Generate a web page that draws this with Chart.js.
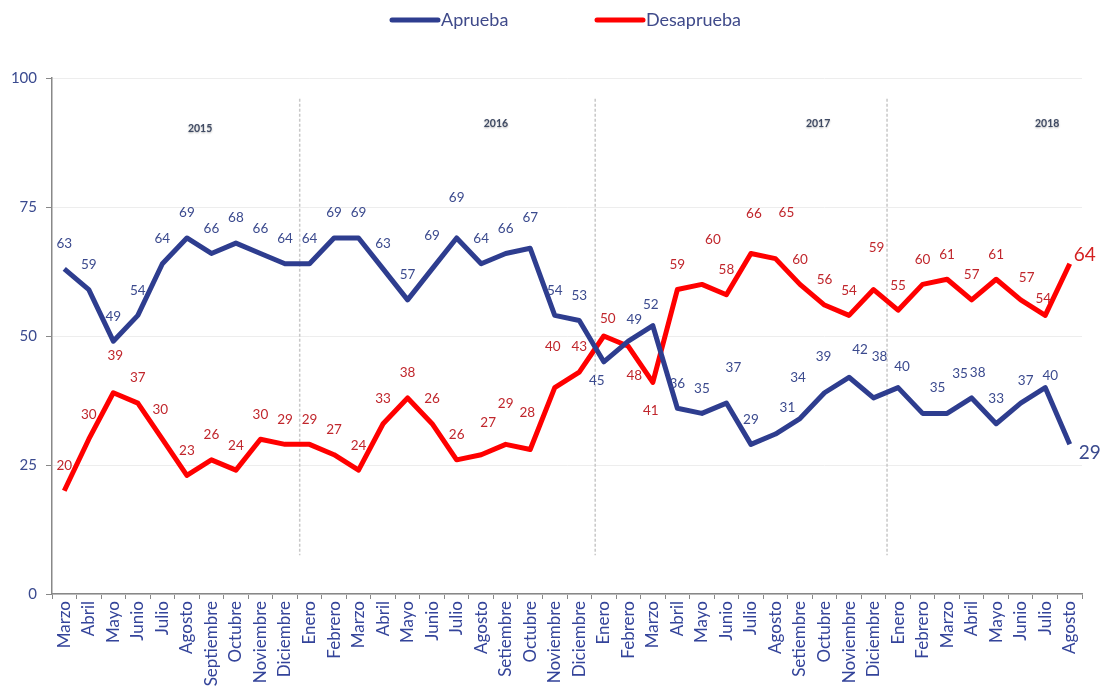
<!DOCTYPE html>
<html>
<head>
<meta charset="utf-8">
<script src="https://cdn.jsdelivr.net/npm/chart.js@4.4.1/dist/chart.umd.min.js"></script>
<style>
  html, body { margin: 0; padding: 0; background: #fff; }
  #wrap { width: 1110px; height: 688px; }
</style>
</head>
<body>
<div id="wrap"><canvas id="chart"></canvas></div>
<script>
// months from Marzo 2015 to Agosto 2018
var months = [
  "Marzo", "Abril", "Mayo", "Junio", "Julio", "Agosto", "Septiembre", "Octubre", "Noviembre", "Diciembre",
  "Enero", "Febrero", "Marzo", "Abril", "Mayo", "Junio", "Julio", "Agosto", "Setiembre", "Octubre", "Noviembre", "Diciembre",
  "Enero", "Febrero", "Marzo", "Abril", "Mayo", "Junio", "Julio", "Agosto", "Setiembre", "Octubre", "Noviembre", "Diciembre",
  "Enero", "Febrero", "Marzo", "Abril", "Mayo", "Junio", "Julio", "Agosto"
];
var years = ["2015", "2016", "2017", "2018"];

var aprueba = [
  63, 59, 49, 54, 64, 69, 66, 68, 66, 64,
  64, 69, 69, 63, 57, 63, 69, 64, 66, 67, 54, 53,
  45, 49, 52, 36, 35, 37, 29, 31, 34, 39, 42, 38,
  40, 35, 35, 38, 33, 37, 40, 29
];
var desaprueba = [
  20, 30, 39, 37, 30, 23, 26, 24, 30, 29,
  29, 27, 24, 33, 38, 33, 26, 27, 29, 28, 40, 43,
  50, 48, 41, 59, 60, 58, 66, 65, 60, 56, 54, 59,
  55, 60, 61, 57, 61, 57, 54, 64
];

// the original chart prints these texts at Junio 2016
var apruebaText = aprueba.map(String);
apruebaText[15] = "69";
var desaprueba_text = desaprueba.map(String);
desaprueba_text[15] = "26";

var BLUE = "#2E3D8F";
var RED = "#FF0000";
var FONT = "Lato, 'Open Sans', sans-serif";

// label offsets from the point (dx, dy), default is straight above
var aprOffsets = {15: [0, -33], 16: [0, -40], 19: [0, -31], 22: [-7, 19], 23: [6, -22], 24: [-2, -21],
  27: [7, -35], 29: [12, -26], 30: [-2, -41], 31: [-1, -36], 32: [11, -28], 33: [6, -41], 34: [4, -21],
  35: [15, -26], 36: [13, -40], 37: [6, -25], 39: [5, -22], 40: [5, -12], 41: [20, 9]};
var desOffsets = {2: [2, -37], 4: [-2, -30], 17: [7, -32], 18: [0, -41], 19: [-3, -37], 20: [-2, -41],
  22: [4, -17], 23: [6, 29], 24: [-2, 28], 26: [11, -45], 28: [3, -40], 29: [11, -46], 33: [3, -42],
  39: [6, -22], 40: [-2, -17], 41: [15, -9]};

var yearBreaks = [9.6, 21.65, 33.55];
var yearAt = [[5.54, 90.1], [17.6, 91.1], [30.74, 91.1], [40.08, 91.1]];

var extras = {
    id: "extras",
    beforeDatasetsDraw: function (chart) {
        var ctx = chart.ctx, x = chart.scales.x, y = chart.scales.y;
        ctx.save();
        ctx.strokeStyle = "#C8C8C8";
        ctx.lineWidth = 1.5;
        ctx.setLineDash([3, 2]);
        yearBreaks.forEach(function (v) {
            var px = x.getPixelForValue(v);
            ctx.beginPath();
            ctx.moveTo(px, y.getPixelForValue(96));
            ctx.lineTo(px, y.getPixelForValue(7.5));
            ctx.stroke();
        });
        ctx.setLineDash([]);
        ctx.font = "bold 10.5px " + FONT;
        ctx.fillStyle = "#3F4A63";
        ctx.textAlign = "center";
        ctx.textBaseline = "middle";
        ctx.shadowColor = "rgba(0,0,0,0.3)";
        ctx.shadowBlur = 2;
        ctx.shadowOffsetY = 1;
        years.forEach(function (t, i) {
            ctx.fillText(t, x.getPixelForValue(yearAt[i][0]), y.getPixelForValue(yearAt[i][1]));
        });
        ctx.restore();
    },
    afterDatasetsDraw: function (chart) {
        var ctx = chart.ctx;
        ctx.save();
        ctx.textAlign = "center";
        ctx.textBaseline = "middle";
        chart.data.datasets.forEach(function (ds, di) {
            var meta = chart.getDatasetMeta(di);
            var offs = di == 0 ? aprOffsets : desOffsets;
            var texts = di == 0 ? apruebaText : desaprueba_text;
            meta.data.forEach(function (pt, i) {
                var o = offs[i] || [0, -25];
                var last = i == meta.data.length - 1;
                ctx.font = (last ? "19px " : "13.5px ") + FONT;
                ctx.fillStyle = di == 0 ? "#3B4A8E" : (last ? "#D42020" : "#C0262C");
                ctx.fillText(texts[i], pt.x + o[0], pt.y + o[1]);
            });
        });
        ctx.restore();
    },
    afterDraw: function (chart) {
        // legend like the original: long line then label
        var ctx = chart.ctx;
        var starts = [392, 597];
        ctx.save();
        ctx.font = "18px " + FONT;
        ctx.textBaseline = "middle";
        ctx.lineCap = "round";
        chart.data.datasets.forEach(function (ds, i) {
            ctx.strokeStyle = ds.borderColor;
            ctx.lineWidth = 5;
            ctx.beginPath();
            ctx.moveTo(starts[i], 20);
            ctx.lineTo(starts[i] + 46, 20);
            ctx.stroke();
            ctx.fillStyle = "#3F4A8A";
            ctx.fillText(ds.label, starts[i] + 49, 20);
        });
        ctx.restore();
    }
};

var ctx = document.getElementById("chart");
var myChart = new Chart(ctx, {
    type: "line",
    data: {
        labels: months,
        datasets: [
            {
                label: "Aprueba",
                data: aprueba,
                borderColor: BLUE,
                backgroundColor: BLUE,
                borderWidth: 5,
                pointRadius: 0,
                tension: 0,
                borderJoinStyle: "round"
            },
            {
                label: "Desaprueba",
                data: desaprueba,
                borderColor: RED,
                backgroundColor: RED,
                borderWidth: 5,
                pointRadius: 0,
                tension: 0,
                borderJoinStyle: "round"
            }
        ]
    },
    options: {
        responsive: true,
        maintainAspectRatio: false,
        animation: false,
        layout: { padding: { top: 78, right: 28, left: 0, bottom: 0 } },
        plugins: {
            legend: { display: false },
            tooltip: { enabled: false }
        },
        scales: {
            x: {
                offset: true,
                afterFit: function (s) { s.height = 94; },
                grid: { drawOnChartArea: false, tickLength: 5, tickColor: "#888", offset: true },
                border: { color: "#888", width: 1.5 },
                ticks: {
                    autoSkip: false,
                    maxRotation: 90,
                    minRotation: 90,
                    padding: 2,
                    color: "#34449A",
                    font: { family: FONT, size: 17 }
                }
            },
            y: {
                min: 0,
                max: 100,
                afterFit: function (s) { s.width = 52; },
                grid: { color: "#EDEDED", tickLength: 6, tickColor: "#888" },
                border: { color: "#888", width: 1.5 },
                ticks: {
                    stepSize: 25,
                    padding: 9,
                    color: "#3A4A8F",
                    font: { family: FONT, size: 15 }
                }
            }
        }
    },
    plugins: [extras]
});
</script>
</body>
</html>
